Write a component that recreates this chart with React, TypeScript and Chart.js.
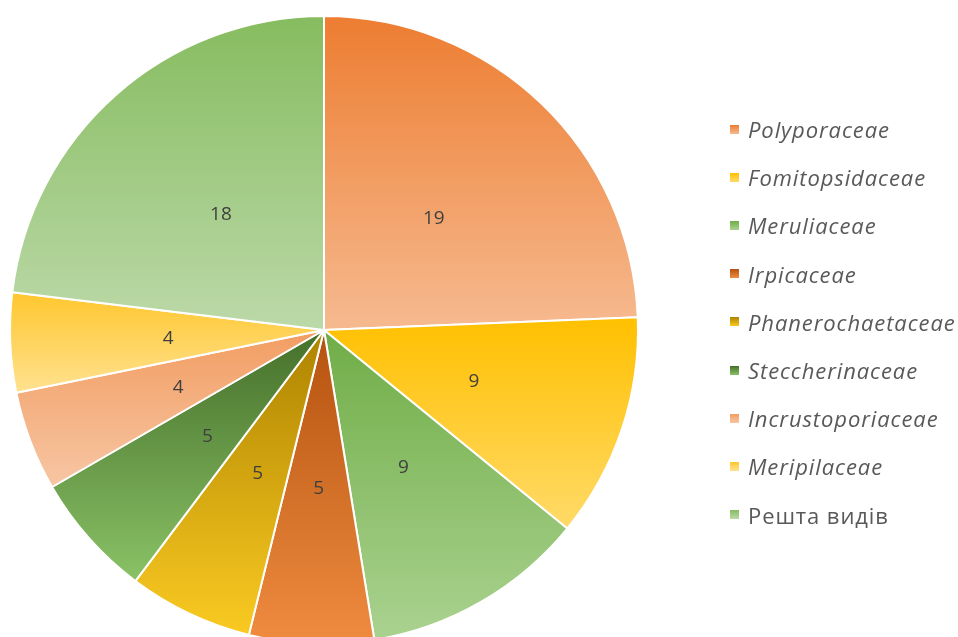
import React, { useEffect, useRef } from "react";
import { Chart, registerables } from "chart.js";

Chart.register(...registerables);

const categories = [
  "Polyporaceae",
  "Fomitopsidaceae",
  "Meruliaceae",
  "Irpicaceae",
  "Phanerochaetaceae",
  "Steccherinaceae",
  "Incrustoporiaceae",
  "Meripilaceae",
  "Решта видів",
];
const speciesCounts = [19, 9, 9, 5, 5, 5, 4, 4, 18];
const italicLabels = [true, true, true, true, true, true, true, true, false];
const gradientTop = ["#ED7D31", "#FFC000", "#70AD47", "#B4520F", "#AD8300", "#456F2A", "#F29D62", "#FFC72E", "#86BC5F"];
const gradientBottom = ["#F6BA90", "#FFDA68", "#AAD290", "#EF8C40", "#FACA22", "#8AC266", "#F7C6A4", "#FFE190", "#BCD9A9"];

const BORDER = 2;

function sliceGradient(ctx: any) {
  const chart = ctx.chart;
  const area = chart.chartArea;
  const i = ctx.dataIndex;
  if (!area || i === undefined) return gradientTop[i ?? 0];
  const data: number[] = ctx.dataset.data;
  const total = data.reduce((a, b) => a + b, 0);
  let before = 0;
  for (let k = 0; k < i; k++) before += data[k];
  const a0 = (before / total) * Math.PI * 2 - Math.PI / 2;
  const a1 = ((before + data[i]) / total) * Math.PI * 2 - Math.PI / 2;
  const cy = (area.top + area.bottom) / 2;
  const R = (Math.min(area.right - area.left, area.bottom - area.top) - BORDER) / 2;
  const ys = [cy, cy + R * Math.sin(a0), cy + R * Math.sin(a1)];
  const contains = (a: number) => {
    for (let t = a - 4 * Math.PI; t <= a + 4 * Math.PI; t += 2 * Math.PI) {
      if (t >= a0 && t <= a1) return true;
    }
    return false;
  };
  if (contains(-Math.PI / 2)) ys.push(cy - R);
  if (contains(Math.PI / 2)) ys.push(cy + R);
  const y0 = Math.min(...ys);
  const y1 = Math.max(...ys);
  const g = chart.ctx.createLinearGradient(0, y0, 0, y1);
  g.addColorStop(0, gradientTop[i]);
  g.addColorStop(1, gradientBottom[i]);
  return g;
}

const valueLabels = {
  id: "valueLabels",
  afterDatasetsDraw(chart: any) {
    const ctx = chart.ctx;
    const meta = chart.getDatasetMeta(0);
    ctx.save();
    ctx.fillStyle = "#3F3F3F";
    ctx.font = '19px "Open Sans", "DejaVu Sans", sans-serif';
    ctx.textAlign = "center";
    ctx.textBaseline = "middle";
    meta.data.forEach((arc: any, i: number) => {
      const p = arc.getCenterPoint();
      ctx.fillText(String(chart.data.datasets[0].data[i]), p.x + 1, p.y + 2);
    });
    ctx.restore();
  },
};

export default function App() {
  const canvasRef = useRef<HTMLCanvasElement | null>(null);

  useEffect(() => {
    const canvas = canvasRef.current;
    if (!canvas) return;
    const chart = new Chart(canvas, {
      type: "pie",
      data: {
        labels: categories,
        datasets: [
          {
            data: speciesCounts,
            backgroundColor: sliceGradient as any,
            borderColor: "#FFFFFF",
            borderWidth: BORDER,
            hoverBorderWidth: BORDER,
            hoverOffset: 0,
            offset: 0,
          },
        ],
      },
      options: {
        responsive: false,
        animation: false,
        events: [],
        layout: { padding: { left: 9, top: 15, right: 319, bottom: 35 } },
        plugins: {
          legend: { display: false },
          tooltip: { enabled: false },
        },
      },
      plugins: [valueLabels],
    });
    return () => chart.destroy();
  }, []);

  return (
    <div
      style={{
        position: "fixed",
        left: 0,
        top: 0,
        width: 958,
        height: 637,
        overflow: "hidden",
        background: "#FFFFFF",
      }}
    >
      <canvas ref={canvasRef} width={958} height={680} style={{ display: "block" }} />
      <div style={{ position: "absolute", left: 730, top: 105, fontFamily: '"Open Sans", sans-serif' }}>
        {categories.map((c, i) => (
          <div
            key={c}
            style={{ display: "flex", alignItems: "center", height: 48.2, whiteSpace: "nowrap" }}
          >
            <span
              style={{
                display: "inline-block",
                width: 9,
                height: 9,
                marginRight: 9,
                background: `linear-gradient(${gradientTop[i]}, ${gradientBottom[i]})`,
              }}
            />
            <span
              style={{
                fontSize: 22,
                color: "#595959",
                fontStyle: italicLabels[i] ? "italic" : "normal",
                letterSpacing: 0.9,
              }}
            >
              {c}
            </span>
          </div>
        ))}
      </div>
    </div>
  );
}
